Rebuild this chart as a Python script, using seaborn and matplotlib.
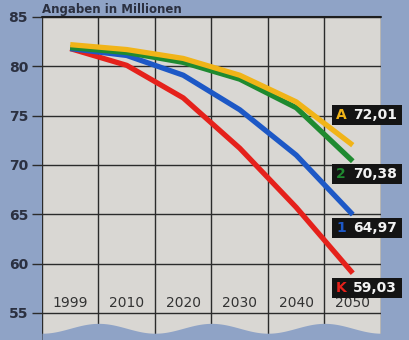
import numpy as np
import pandas as pd
import matplotlib
matplotlib.use("Agg")
import matplotlib.pyplot as plt
from matplotlib.patches import Rectangle
import seaborn as sns

# ---- data ----
years = ["1999", "2010", "2020", "2030", "2040", "2050"]
series_names = ["K", "1", "2", "A"]
values_K = [81.8, 80.1, 76.8, 71.7, 65.7, 59.03]
values_1 = [81.8, 81.1, 79.1, 75.6, 71.0, 64.97]
values_2 = [81.9, 81.4, 80.4, 78.7, 75.8, 70.38]
values_A = [82.2, 81.7, 80.8, 79.1, 76.4, 72.01]
end_labels = ["59,03", "64,97", "70,38", "72,01"]
y_ticks = [55, 60, 65, 70, 75, 80, 85]

# ---- style ----
colors = {"K": "#e5211b", "1": "#1d58c6", "2": "#1f8a30", "A": "#f1b418"}
label_y_center = {"K": 57.55, "1": 63.6, "2": 69.1, "A": 75.05}
fig_bg = "#8fa3c6"
panel_bg = "#d9d7d3"
grid_c = "#2b2b2b"

sns.set_theme(style="white")
plt.rcParams["font.family"] = ["DejaVu Sans"]

rows = []
for name, vals in zip(series_names, [values_K, values_1, values_2, values_A]):
    for i, v in enumerate(vals):
        rows.append({"x": i, "year": years[i], "series": name, "value": v})
df = pd.DataFrame(rows)

fig = plt.figure(figsize=(4.10, 3.40), dpi=100)
fig.patch.set_facecolor(fig_bg)
ax = fig.add_axes([42 / 410, 0.0, (381 - 42) / 410, 1 - 17 / 340])
ax.set_facecolor(panel_bg)

ymin = 55 - (340 - 313) / 9.86
ax.set_xlim(-0.5, 5.5)
ax.set_ylim(ymin, 85)

# grid
for yt in y_ticks:
    ax.axhline(yt, color=grid_c, lw=1.0, zorder=1)
for gx in np.arange(-0.5, 6.0, 1.0):
    ax.axvline(gx, color=grid_c, lw=1.0, zorder=1)

# wavy bottom edge (decoration)
wx = np.linspace(-0.5, 5.5, 300)
wy = 53.45 + 0.5 * np.cos(np.pi * (wx - 0.5))
ax.fill_between(wx, ymin - 1, wy, color=fig_bg, zorder=2, lw=0)

sns.lineplot(data=df, x="x", y="value", hue="series", hue_order=series_names,
             palette=colors, linewidth=3.8, legend=False, ax=ax, zorder=3,
             solid_capstyle="butt")

for s in ["top", "right", "left", "bottom"]:
    ax.spines[s].set_visible(False)
ax.plot([-0.5, 5.5], [85, 85], color="#1e1e1e", lw=1.5, clip_on=False, zorder=4)

ax.set_xticks([])
ax.set_yticks(y_ticks)
ax.set_yticklabels([str(t) for t in y_ticks], fontsize=10, fontweight="bold",
                   color="#2b3040")
ax.tick_params(axis="y", length=7, width=1.0, color=grid_c, pad=3, left=True)
ax.set_xlabel("")
ax.set_ylabel("")

for i, yr in enumerate(years):
    ax.text(i, 55.3, yr, ha="center", va="bottom", fontsize=10,
            color="#333333", zorder=5)

ax.text(-0.5, 85.45, "Angaben in Millionen", ha="left", va="baseline",
        fontsize=8.5, fontweight="bold", color="#2b3040", clip_on=False)

# end labels
px = 56.5  # pixels per x unit
def xp(p):
    return (p - 70) / px
for name, lab in zip(series_names, end_labels):
    yc = label_y_center[name]
    h = 2.05
    x0 = xp(332)
    x1 = xp(402)
    ax.add_patch(Rectangle((x0, yc - h / 2), x1 - x0, h, facecolor="#141414",
                           edgecolor="none", clip_on=False, zorder=6))
    ax.text(xp(341), yc, name, ha="center", va="center", fontsize=10,
            fontweight="bold", color=colors[name], zorder=7, clip_on=False)
    ax.text(xp(397), yc, lab, ha="right", va="center", fontsize=10,
            fontweight="bold", color="#f2f2f2", zorder=7, clip_on=False)

fig.savefig("out.png", dpi=100, facecolor=fig_bg)
